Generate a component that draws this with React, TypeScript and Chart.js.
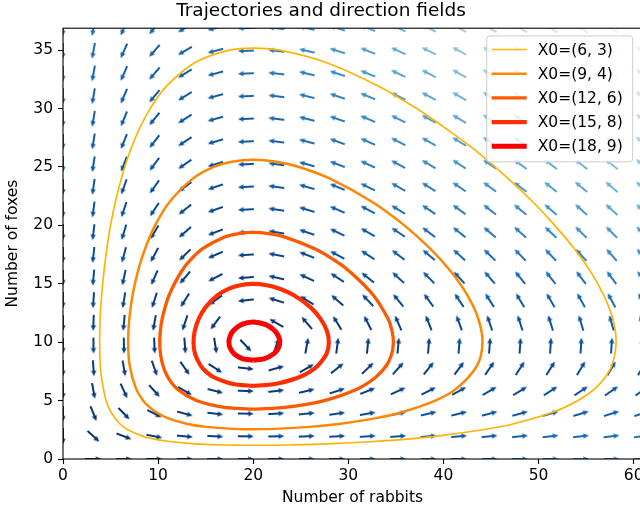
import React, { useEffect, useRef } from 'react';
import { Chart, registerables } from 'chart.js';

Chart.register(...registerables);

const FONT = 'DejaVu Sans';
const TITLE = 'Trajectories and direction fields';
const X_LABEL = 'Number of rabbits';
const Y_LABEL = 'Number of foxes';
const X_MAX = 60.87;
const Y_MAX = 36.88;
const X_STEP = 10;
const Y_STEP = 5;

// grid on which the direction field is sampled
const gridX = [0, 3.204, 6.407, 9.611, 12.815, 16.018, 19.222, 22.426, 25.629, 28.833, 32.037, 35.24, 38.444, 41.648, 44.851, 48.055, 51.259, 54.462, 57.666, 60.87];
const gridY = [0, 1.941, 3.882, 5.823, 7.764, 9.705, 11.646, 13.587, 15.528, 17.469, 19.411, 21.352, 23.293, 25.234, 27.175, 29.116, 31.057, 32.998, 34.939, 36.88];

// horizontal component of the field (rows follow gridY, columns follow gridX)
const fieldU = [
  [0, 3.2, 6.4, 9.6, 12.8, 16.0, 19.2, 22.4, 25.6, 28.8, 32.0, 35.2, 38.4, 41.6, 44.9, 48.1, 51.3, 54.5, 57.7, 60.9],
  [0, 2.6, 5.2, 7.7, 10.3, 12.9, 15.5, 18.1, 20.7, 23.2, 25.8, 28.4, 31.0, 33.6, 36.1, 38.7, 41.3, 43.9, 46.5, 49.1],
  [0, 2.0, 3.9, 5.9, 7.8, 9.8, 11.8, 13.7, 15.7, 17.6, 19.6, 21.6, 23.5, 25.5, 27.4, 29.4, 31.4, 33.3, 35.3, 37.2],
  [0, 1.3, 2.7, 4.0, 5.4, 6.7, 8.0, 9.4, 10.7, 12.0, 13.4, 14.7, 16.1, 17.4, 18.7, 20.1, 21.4, 22.7, 24.1, 25.4],
  [0, 0.7, 1.4, 2.1, 2.9, 3.6, 4.3, 5.0, 5.7, 6.4, 7.2, 7.9, 8.6, 9.3, 10.0, 10.7, 11.5, 12.2, 12.9, 13.6],
  [0, 0.09, 0.19, 0.28, 0.38, 0.47, 0.57, 0.66, 0.76, 0.85, 0.95, 1.04, 1.13, 1.23, 1.32, 1.42, 1.51, 1.61, 1.70, 1.80],
  [0, -0.5, -1.1, -1.6, -2.1, -2.6, -3.2, -3.7, -4.2, -4.7, -5.3, -5.8, -6.3, -6.9, -7.4, -7.9, -8.4, -9.0, -9.5, -10.0],
  [0, -1.1, -2.3, -3.4, -4.6, -5.7, -6.9, -8.0, -9.2, -10.3, -11.5, -12.6, -13.8, -14.9, -16.1, -17.2, -18.4, -19.5, -20.7, -21.8],
  [0, -1.8, -3.5, -5.3, -7.1, -8.9, -10.6, -12.4, -14.2, -15.9, -17.7, -19.5, -21.3, -23.0, -24.8, -26.6, -28.3, -30.1, -31.9, -33.6],
  [0, -2.4, -4.8, -7.2, -9.6, -12.0, -14.4, -16.8, -19.1, -21.5, -23.9, -26.3, -28.7, -31.1, -33.5, -35.9, -38.3, -40.7, -43.1, -45.5],
  [0, -3.0, -6.0, -9.0, -12.1, -15.1, -18.1, -21.1, -24.1, -27.1, -30.2, -33.2, -36.2, -39.2, -42.2, -45.2, -48.2, -51.3, -54.3, -57.3],
  [0, -3.6, -7.3, -10.9, -14.5, -18.2, -21.8, -25.5, -29.1, -32.7, -36.4, -40.0, -43.6, -47.3, -50.9, -54.6, -58.2, -61.8, -65.5, -69.1],
  [0, -4.3, -8.5, -12.8, -17.0, -21.3, -25.6, -29.8, -34.1, -38.3, -42.6, -46.8, -51.1, -55.4, -59.6, -63.9, -68.1, -72.4, -76.7, -80.9],
  [0, -4.9, -9.8, -14.6, -19.5, -24.4, -29.3, -34.2, -39.0, -43.9, -48.8, -53.7, -58.6, -63.4, -68.3, -73.2, -78.1, -83.0, -87.8, -92.7],
  [0, -5.5, -11.0, -16.5, -22.0, -27.5, -33.0, -38.5, -44.0, -49.5, -55.0, -60.5, -66.0, -71.5, -77.0, -82.5, -88.0, -93.5, -99.0, -104.5],
  [0, -6.1, -12.2, -18.4, -24.5, -30.6, -36.7, -42.9, -49.0, -55.1, -61.2, -67.4, -73.5, -79.6, -85.7, -91.9, -98.0, -104.1, -110.2, -116.4],
  [0, -6.7, -13.5, -20.2, -27.0, -33.7, -40.5, -47.2, -54.0, -60.7, -67.5, -74.2, -81.0, -87.7, -94.4, -101.2, -107.9, -114.7, -121.4, -128.2],
  [0, -7.4, -14.7, -22.1, -29.5, -36.8, -44.2, -51.6, -58.9, -66.3, -73.7, -81.0, -88.4, -95.8, -103.1, -110.5, -117.9, -125.3, -132.6, -140.0],
  [0, -8.0, -16.0, -24.0, -32.0, -39.9, -47.9, -55.9, -63.9, -71.9, -79.9, -87.9, -95.9, -103.9, -111.9, -119.8, -127.8, -135.8, -143.8, -151.8],
  [0, -8.6, -17.2, -25.8, -34.4, -43.1, -51.7, -60.3, -68.9, -77.5, -86.1, -94.7, -103.3, -112.0, -120.6, -129.2, -137.8, -146.4, -155.0, -163.6],
];

// vertical component of the field
const fieldV = [
  [0, 0, 0, 0, 0, 0, 0, 0, 0, 0, 0, 0, 0, 0, 0, 0, 0, 0, 0, 0],
  [-2.9, -2.4, -2.0, -1.5, -1.0, -0.6, -0.1, 0.4, 0.8, 1.3, 1.8, 2.2, 2.7, 3.2, 3.6, 4.1, 4.6, 5.0, 5.5, 6.0],
  [-5.8, -4.9, -4.0, -3.0, -2.1, -1.2, -0.2, 0.7, 1.6, 2.6, 3.5, 4.4, 5.4, 6.3, 7.2, 8.2, 9.1, 10.0, 11.0, 11.9],
  [-8.7, -7.3, -5.9, -4.5, -3.1, -1.7, -0.3, 1.1, 2.5, 3.9, 5.3, 6.7, 8.1, 9.5, 10.9, 12.3, 13.7, 15.1, 16.5, 17.9],
  [-11.6, -9.8, -7.9, -6.0, -4.2, -2.3, -0.5, 1.4, 3.3, 5.1, 7.0, 8.9, 10.7, 12.6, 14.5, 16.3, 18.2, 20.1, 21.9, 23.8],
  [-14.6, -12.2, -9.9, -7.6, -5.2, -2.9, -0.6, 1.8, 4.1, 6.4, 8.8, 11.1, 13.4, 15.8, 18.1, 20.4, 22.8, 25.1, 27.4, 29.8],
  [-17.5, -14.7, -11.9, -9.1, -6.3, -3.5, -0.7, 2.1, 4.9, 7.7, 10.5, 13.3, 16.1, 18.9, 21.7, 24.5, 27.3, 30.1, 32.9, 35.7],
  [-20.4, -17.1, -13.9, -10.6, -7.3, -4.1, -0.8, 2.5, 5.7, 9.0, 12.3, 15.5, 18.8, 22.1, 25.3, 28.6, 31.9, 35.1, 38.4, 41.7],
  [-23.3, -19.6, -15.8, -12.1, -8.4, -4.6, -0.9, 2.8, 6.6, 10.3, 14.0, 17.8, 21.5, 25.2, 28.9, 32.7, 36.4, 40.1, 43.9, 47.6],
  [-26.2, -22.0, -17.8, -13.6, -9.4, -5.2, -1.0, 3.2, 7.4, 11.6, 15.8, 20.0, 24.2, 28.4, 32.6, 36.8, 41.0, 45.2, 49.4, 53.6],
  [-29.1, -24.5, -19.8, -15.1, -10.5, -5.8, -1.1, 3.5, 8.2, 12.9, 17.5, 22.2, 26.9, 31.5, 36.2, 40.9, 45.5, 50.2, 54.8, 59.5],
  [-32.0, -26.9, -21.8, -16.6, -11.5, -6.4, -1.2, 3.9, 9.0, 14.2, 19.3, 24.4, 29.5, 34.7, 39.8, 44.9, 50.1, 55.2, 60.3, 65.5],
  [-34.9, -29.3, -23.7, -18.1, -12.6, -7.0, -1.4, 4.2, 9.8, 15.4, 21.0, 26.6, 32.2, 37.8, 43.4, 49.0, 54.6, 60.2, 65.8, 71.4],
  [-37.9, -31.8, -25.7, -19.7, -13.6, -7.5, -1.5, 4.6, 10.7, 16.7, 22.8, 28.8, 34.9, 41.0, 47.0, 53.1, 59.2, 65.2, 71.3, 77.4],
  [-40.8, -34.2, -27.7, -21.2, -14.6, -8.1, -1.6, 4.9, 11.5, 18.0, 24.5, 31.1, 37.6, 44.1, 50.7, 57.2, 63.7, 70.3, 76.8, 83.3],
  [-43.7, -36.7, -29.7, -22.7, -15.7, -8.7, -1.7, 5.3, 12.3, 19.3, 26.3, 33.3, 40.3, 47.3, 54.3, 61.3, 68.3, 75.3, 82.3, 89.3],
  [-46.6, -39.1, -31.7, -24.2, -16.7, -9.3, -1.8, 5.7, 13.1, 20.6, 28.0, 35.5, 43.0, 50.4, 57.9, 65.4, 72.8, 80.3, 87.7, 95.2],
  [-49.5, -41.6, -33.6, -25.7, -17.8, -9.9, -1.9, 6.0, 13.9, 21.9, 29.8, 37.7, 45.7, 53.6, 61.5, 69.4, 77.4, 85.3, 93.2, 101.2],
  [-52.4, -44.0, -35.6, -27.2, -18.8, -10.4, -2.0, 6.4, 14.8, 23.2, 31.5, 39.9, 48.3, 56.7, 65.1, 73.5, 81.9, 90.3, 98.7, 107.1],
  [-55.3, -46.5, -37.6, -28.7, -19.9, -11.0, -2.1, 6.7, 15.6, 24.4, 33.3, 42.2, 51.0, 59.9, 68.8, 77.6, 86.5, 95.3, 104.2, 113.1],
];

// trajectories (rabbits, foxes)
const orbit1: [number, number][] = [
  [20, 1.174], [21.65, 1.18], [23.41, 1.2], [27.73, 1.3], [32.62, 1.5], [36.7, 1.75], [39.73, 2], [44.15, 2.5], [47.29, 3],
  [51.5, 4], [54.14, 5], [55.9, 6], [57.0, 7], [57.7, 8], [58.15, 10], [57.8, 12], [56.85, 14], [55.5, 16], [53.75, 18],
  [51.7, 20], [49.4, 22], [46.8, 24], [44.0, 26], [40.75, 28], [37.18, 30], [32.97, 32], [27.44, 34], [22.72, 35],
  [20, 35.18], [17.51, 35], [14.04, 34], [10.98, 32], [9.16, 30], [7.88, 28], [6.9, 26], [6.13, 24], [5.5, 22], [5.0, 20],
  [4.61, 18], [4.3, 16], [4.06, 14], [3.9, 12], [3.85, 10], [3.92, 8], [4.04, 7], [4.53, 5], [5.05, 4], [6, 3], [6.83, 2.5],
  [8.22, 2], [9.26, 1.75], [11.15, 1.5], [13.86, 1.3], [16.93, 1.2], [18.43, 1.18], [20, 1.174],
];
const orbit2: [number, number][] = [
  [20, 2.55], [22.2, 2.58], [25.93, 2.75], [28.98, 3], [32.92, 3.5], [35.6, 4], [39.13, 5], [41.32, 6], [43.53, 8], [44.1, 10],
  [43.66, 12], [42.52, 14], [40.82, 16], [38.61, 18], [35.88, 20], [32.52, 22], [28.07, 24], [24.81, 25], [22.45, 25.45],
  [20, 25.62], [17.73, 25.45], [15.85, 25], [13.65, 24], [11.2, 22], [9.68, 20], [8.63, 18], [7.85, 16], [7.31, 14],
  [6.97, 12], [6.85, 10], [7.01, 8], [7.69, 6], [8.43, 5], [9, 4.5], [9.8, 4], [11.0, 3.5], [13.1, 3], [15.05, 2.75],
  [17.95, 2.58], [20, 2.55],
];
const orbit3: [number, number][] = [
  [20, 4.277], [22.35, 4.35], [24.16, 4.5], [27.46, 5], [30.95, 6], [32.88, 7], [34.0, 8], [34.56, 9], [34.73, 10],
  [34.58, 11], [34.17, 12], [32.65, 14], [30.21, 16], [28.57, 17], [26.47, 18], [23.34, 19], [21.6, 19.3], [20, 19.395],
  [18.48, 19.3], [16.99, 19], [14.68, 18], [13.35, 17], [12.4, 16], [11.14, 14], [10.42, 12], [10.24, 11], [10.17, 10],
  [10.25, 9], [10.5, 8], [11.02, 7], [12, 6], [14.03, 5], [16.35, 4.5], [17.82, 4.35], [20, 4.277],
];
const orbit4: [number, number][] = [
  [20, 6.263], [21.69, 6.35], [22.79, 6.5], [24.81, 7], [26.0, 7.5], [26.8, 8], [27.7, 9], [27.95, 10], [27.73, 11],
  [27.08, 12], [26.0, 13], [24.32, 14], [22.71, 14.6], [21.29, 14.9], [20, 14.99], [18.76, 14.9], [17.51, 14.6],
  [16.22, 14], [15.0, 13], [14.27, 12], [13.86, 11], [13.72, 10], [13.88, 9], [14.46, 8], [15, 7.5], [15.85, 7],
  [17.44, 6.5], [18.4, 6.35], [20, 6.263],
];
const orbit5: [number, number][] = [
  [20, 8.45], [21.2, 8.6], [22.14, 9], [22.65, 9.5], [22.79, 10], [22.66, 10.5], [22.23, 11], [21.33, 11.5], [20, 11.73],
  [18.73, 11.5], [17.92, 11], [17.56, 10.5], [17.44, 10], [17.57, 9.5], [18.0, 9], [18.85, 8.6], [20, 8.45],
];

const trajectories = [orbit1, orbit2, orbit3, orbit4, orbit5];
const trajLabels = ['X0=(6, 3)', 'X0=(9, 4)', 'X0=(12, 6)', 'X0=(15, 8)', 'X0=(18, 9)'];
const trajColors = ['#ffb200', '#ff8600', '#ff5900', '#ff2d00', '#ff0000'];
const trajWidths = [1.65, 2.47, 3.3, 4.12, 4.95];

const BLUES_R = ['#08306b', '#08519c', '#2171b5', '#4292c6', '#6baed6', '#9ecae1', '#c6dbef', '#deebf7', '#f7fbff'];

function hexRgb(h: string): number[] {
  return [parseInt(h.slice(1, 3), 16), parseInt(h.slice(3, 5), 16), parseInt(h.slice(5, 7), 16)];
}
function bluesR(t: number): string {
  const tt = Math.max(0, Math.min(1, t));
  const p = tt * (BLUES_R.length - 1);
  const i = Math.min(BLUES_R.length - 2, Math.floor(p));
  const f = p - i;
  const a = hexRgb(BLUES_R[i]);
  const b = hexRgb(BLUES_R[i + 1]);
  const c = a.map((v, k) => Math.round(v + (b[k] - v) * f));
  return `rgb(${c[0]},${c[1]},${c[2]})`;
}

const arrowCache = new Map<string, HTMLCanvasElement>();
function arrowImage(color: string): HTMLCanvasElement {
  const hit = arrowCache.get(color);
  if (hit) return hit;
  const c = document.createElement('canvas');
  const L = 16;
  c.width = L;
  c.height = 8;
  const g = c.getContext('2d')!;
  const cy = 4, sh = 0.95, hl = 6, ha = 5.3, hw = 2.8;
  g.fillStyle = color;
  g.beginPath();
  g.moveTo(0, cy - sh);
  g.lineTo(L - ha, cy - sh);
  g.lineTo(L - hl, cy - hw);
  g.lineTo(L, cy);
  g.lineTo(L - hl, cy + hw);
  g.lineTo(L - ha, cy + sh);
  g.lineTo(0, cy + sh);
  g.closePath();
  g.fill();
  arrowCache.set(color, c);
  return c;
}

type Arrow = { x: number; y: number; u: number; v: number; m: number };

const framePlugin = {
  id: 'frame',
  afterDatasetsDraw(chart: any) {
    const { ctx, chartArea: a } = chart;
    ctx.save();
    ctx.strokeStyle = '#000';
    ctx.lineWidth = 1.1;
    ctx.strokeRect(a.left, a.top, a.right - a.left, a.bottom - a.top);
    ctx.restore();
  },
};

const legendPlugin = {
  id: 'mplLegend',
  afterDraw(chart: any) {
    const { ctx, chartArea: a } = chart;
    const items = chart.data.datasets.filter((d: any) => d.isTrajectory);
    const bx = a.right - 155.3;
    const by = a.top + 7.7;
    const bw = 146;
    const bh = 126;
    ctx.save();
    ctx.beginPath();
    const r = 3;
    ctx.moveTo(bx + r, by);
    ctx.arcTo(bx + bw, by, bx + bw, by + bh, r);
    ctx.arcTo(bx + bw, by + bh, bx, by + bh, r);
    ctx.arcTo(bx, by + bh, bx, by, r);
    ctx.arcTo(bx, by, bx + bw, by, r);
    ctx.closePath();
    ctx.fillStyle = 'rgba(255,255,255,0.8)';
    ctx.fill();
    ctx.strokeStyle = '#cccccc';
    ctx.lineWidth = 1;
    ctx.stroke();
    ctx.font = `15.5px "${FONT}"`;
    ctx.textBaseline = 'middle';
    ctx.fillStyle = '#000';
    items.forEach((d: any, k: number) => {
      const yy = by + 13.6 + k * 24.2;
      ctx.beginPath();
      ctx.strokeStyle = d.borderColor;
      ctx.lineWidth = d.borderWidth;
      ctx.moveTo(bx + 5, yy);
      ctx.lineTo(bx + 40, yy);
      ctx.stroke();
      ctx.fillText(d.label, bx + 51, yy + 1);
    });
    ctx.restore();
  },
};

export default function App() {
  const ref = useRef<HTMLCanvasElement>(null);

  useEffect(() => {
    const arrows: Arrow[] = [];
    gridY.forEach((y, j) => {
      gridX.forEach((x, i) => {
        const u = fieldU[j][i];
        const v = fieldV[j][i];
        if (u === 0 && v === 0) return;
        arrows.push({ x, y, u, v, m: Math.hypot(u, v) });
      });
    });
    const ms = arrows.map((p) => p.m);
    const mMin = Math.min(...ms);
    const mMax = Math.max(...ms);

    const lineSets = trajectories.map((orb, k) => ({
      type: 'scatter' as const,
      label: trajLabels[k],
      isTrajectory: true,
      data: orb.map(([x, y]) => ({ x, y })),
      showLine: true,
      borderColor: trajColors[k],
      backgroundColor: trajColors[k],
      borderWidth: trajWidths[k],
      pointRadius: 0,
      pointHoverRadius: 0,
      tension: 0.35,
      fill: false,
      order: 1,
    }));

    const quiverSet = {
      type: 'scatter' as const,
      label: 'direction field',
      data: arrows,
      pointStyle: (c: any) => {
        const p = c.raw as Arrow | undefined;
        if (!p) return 'circle';
        const t = Math.round(((p.m - mMin) / (mMax - mMin)) * 100) / 100;
        return arrowImage(bluesR(t));
      },
      rotation: (c: any) => {
        const p = c.raw as Arrow | undefined;
        if (!p) return 0;
        return (Math.atan2(-p.v, p.u) * 180) / Math.PI;
      },
      pointRadius: 3,
      pointHoverRadius: 3,
      pointBorderWidth: 0,
      showLine: false,
      clip: 0,
      order: 10,
    };

    const tickFont = { family: FONT, size: 15.5 };

    const chart = new Chart(ref.current!, {
      type: 'scatter',
      data: { datasets: [...lineSets, quiverSet] as any },
      options: {
        responsive: false,
        animation: false,
        events: [],
        layout: { padding: { left: 0, right: 8, top: 0, bottom: 0 } },
        plugins: {
          legend: { display: false },
          tooltip: { enabled: false },
          title: {
            display: true,
            text: TITLE,
            color: '#000',
            font: { family: FONT, size: 18.5, weight: 'normal' as any },
            padding: { top: 0, bottom: 6 },
          },
        },
        scales: {
          x: {
            type: 'linear',
            min: 0,
            max: X_MAX,
            border: { display: false },
            grid: { display: true, drawOnChartArea: false, drawTicks: true, tickLength: 5, tickColor: '#000', tickWidth: 1.1 },
            ticks: { stepSize: X_STEP, includeBounds: false, color: '#000', font: tickFont, padding: 3, maxRotation: 0 },
            title: { display: true, text: X_LABEL, color: '#000', font: tickFont, padding: { top: 0, bottom: 5.7 } },
            afterFit: (s: any) => {
              s.height = 54;
            },
          },
          y: {
            type: 'linear',
            min: 0,
            max: Y_MAX,
            border: { display: false },
            grid: { display: true, drawOnChartArea: false, drawTicks: true, tickLength: 5, tickColor: '#000', tickWidth: 1.1 },
            ticks: { stepSize: Y_STEP, includeBounds: false, color: '#000', font: tickFont, padding: 5 },
            title: { display: true, text: Y_LABEL, color: '#000', font: tickFont, padding: { top: 4, bottom: 0 } },
            afterFit: (s: any) => {
              s.width = 63;
            },
          },
        },
      } as any,
      plugins: [framePlugin, legendPlugin],
    });
    return () => chart.destroy();
  }, []);

  return (
    <div style={{ position: 'fixed', left: 0, top: 0, width: 640, height: 513, overflow: 'hidden', background: '#fff' }}>
      <canvas ref={ref} width={650} height={513} style={{ display: 'block' }} />
    </div>
  );
}
